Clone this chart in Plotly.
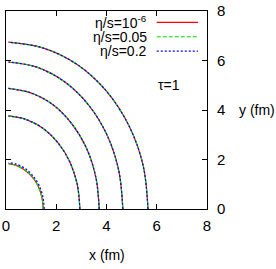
import plotly.graph_objects as go

# Contour points (x, y in fm), one list per contour
c1_x = [1.48, 1.43, 1.28, 1.05, 0.74, 0.38, 0.10]
c1_y = [0.00, 0.47, 0.92, 1.29, 1.58, 1.77, 1.83]
c1b_x = [1.52, 1.47, 1.32, 1.08, 0.77, 0.40, 0.10]
c1b_y = [0.00, 0.49, 0.95, 1.33, 1.63, 1.82, 1.88]
c2_x = [2.94, 2.84, 2.55, 2.08, 1.47, 0.76, 0.10]
c2_y = [0.00, 0.97, 1.88, 2.66, 3.26, 3.63, 3.76]
c3_x = [3.71, 3.58, 3.21, 2.62, 1.86, 0.96, 0.10]
c3_y = [0.00, 1.26, 2.44, 3.44, 4.22, 4.70, 4.87]
c4_x = [4.65, 4.49, 4.03, 3.29, 2.33, 1.20, 0.10]
c4_y = [0.00, 1.54, 2.97, 4.20, 5.14, 5.74, 5.94]
c5_x = [5.65, 5.46, 4.89, 3.99, 2.83, 1.46, 0.10]
c5_y = [0.00, 1.75, 3.37, 4.77, 5.84, 6.51, 6.74]

series_names = ["η/s=10<sup>-6</sup>", "η/s=0.05", "η/s=0.2"]
series_colors = ["#ff0000", "#00dd00", "#0000ff"]
series_dash = ["solid", "4px,2px", "2px,2px"]
series_contours = [
    [(c1_x, c1_y), (c2_x, c2_y), (c3_x, c3_y), (c4_x, c4_y), (c5_x, c5_y)],
    [(c1_x, c1_y), (c2_x, c2_y), (c3_x, c3_y), (c4_x, c4_y), (c5_x, c5_y)],
    [(c1b_x, c1b_y), (c2_x, c2_y), (c3_x, c3_y), (c4_x, c4_y), (c5_x, c5_y)],
]
x_ticks = [0, 2, 4, 6, 8]
y_ticks = [0, 2, 4, 6, 8]

FONT = "Liberation Sans, Arial, sans-serif"
FS = 14

fig = go.Figure()
for name, color, dash, contours in zip(series_names, series_colors, series_dash, series_contours):
    xs, ys = [], []
    for cx, cy in contours:
        xs += cx + [None]
        ys += cy + [None]
    fig.add_trace(go.Scatter(x=xs, y=ys, mode="lines", name=name,
                             line=dict(color=color, width=1.2, dash=dash, shape="spline"),
                             connectgaps=False, showlegend=False))

# legend (text on the left, key on the right, as in the reference)
leg_y = [0.943, 0.870, 0.797]
for name, color, dash, yy in zip(series_names, series_colors, series_dash, leg_y):
    fig.add_annotation(x=0.705, y=yy, xref="paper", yref="paper", text=name,
                       showarrow=False, xanchor="right", yanchor="middle",
                       borderpad=0,
                       font=dict(family=FONT, size=FS, color="black"))
    fig.add_shape(type="line", xref="paper", yref="paper", x0=0.75, x1=0.955, y0=yy, y1=yy,
                  line=dict(color=color, width=1.2, dash=dash))

fig.add_annotation(x=6.5, y=5.0, text="τ=1", showarrow=False,
                   font=dict(family=FONT, size=FS, color="black"))
fig.add_annotation(x=0.5, y=-0.23, xref="paper", yref="paper", text="x (fm)",
                   showarrow=False, yanchor="middle",
                   font=dict(family=FONT, size=FS, color="black"))
fig.add_annotation(x=1.15, y=0.5, xref="paper", yref="paper", text="y (fm)",
                   showarrow=False, xanchor="left", yanchor="middle",
                   font=dict(family=FONT, size=FS, color="black"))

axis_common = dict(range=[0, 8], showgrid=False, zeroline=False, showline=True,
                   linecolor="black", linewidth=1, mirror="allticks",
                   ticks="inside", ticklen=5, tickcolor="black", tickwidth=1,
                   ticklabeloverflow="allow",
                   tickfont=dict(family=FONT, size=15, color="black"))
fig.update_xaxes(tickvals=x_ticks, ticklabelstandoff=3, **axis_common)
fig.update_yaxes(tickvals=y_ticks, side="right", ticklabelstandoff=6, **axis_common)

fig.update_layout(width=276, height=269, margin=dict(l=2, r=69, t=5, b=60),
                  plot_bgcolor="white", paper_bgcolor="white", showlegend=False)
fig.write_html("out.html", config={"displayModeBar": False},
               post_script="document.body.style.margin='0';")
